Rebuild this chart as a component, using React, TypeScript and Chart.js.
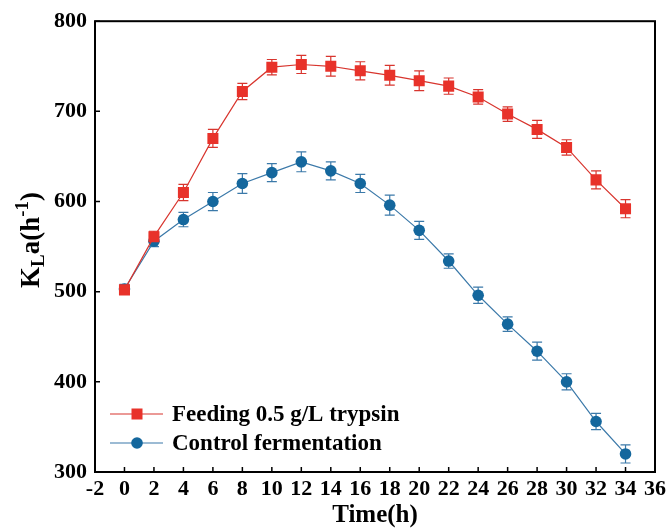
import React, { useEffect, useRef } from "react";
import { Chart, registerables } from "chart.js";

Chart.register(...registerables);

const times = [0, 2, 4, 6, 8, 10, 12, 14, 16, 18, 20, 22, 24, 26, 28, 30, 32, 34];
const feedingValues = [502, 561, 610, 670, 722, 749, 752, 750, 745, 740, 734, 728, 716, 697, 680, 660, 624, 592];
const feedingErrors = [5, 6, 9, 10, 9, 8.5, 10, 11, 10, 11, 11, 9, 8, 8, 10, 8.5, 10, 10];
const controlValues = [503, 556, 580, 600, 620, 632, 644, 634, 620, 596, 568, 534, 496, 464, 434, 400, 356, 320];
const controlErrors = [5, 6, 8, 10, 11, 10, 11, 10, 10, 11, 10, 8, 9, 8, 10, 9, 9, 10];
const seriesLabels = ["Feeding 0.5 g/L trypsin", "Control fermentation"];
const xTitle = "Time(h)";

const RED = "#e8322a";
const RED_LINE = "#d8352e";
const BLUE = "#14679d";
const BLUE_LINE = "#3b79a9";
const FONT = "'Liberation Serif', 'Times New Roman', serif";

const errors = [feedingErrors, controlErrors];

const framePlugin = {
  id: "frame",
  beforeDatasetsDraw(chart: any) {
    const ctx = chart.ctx;
    const xs = chart.scales.x;
    const ys = chart.scales.y;
    chart.data.datasets.forEach((ds: any, i: number) => {
      const err = errors[i];
      ctx.save();
      ctx.strokeStyle = ds.borderColor;
      ctx.lineWidth = 1.2;
      ds.data.forEach((p: any, j: number) => {
        const x = xs.getPixelForValue(p.x);
        const yt = ys.getPixelForValue(p.y + err[j]);
        const yb = ys.getPixelForValue(p.y - err[j]);
        ctx.beginPath();
        ctx.moveTo(x, yt);
        ctx.lineTo(x, yb);
        ctx.moveTo(x - 5, yt);
        ctx.lineTo(x + 5, yt);
        ctx.moveTo(x - 5, yb);
        ctx.lineTo(x + 5, yb);
        ctx.stroke();
      });
      ctx.restore();
    });
  },
  afterDraw(chart: any) {
    const ctx = chart.ctx;
    const a = chart.chartArea;
    const xs = chart.scales.x;
    const ys = chart.scales.y;
    ctx.save();
    ctx.strokeStyle = "#000";
    ctx.lineWidth = 2;
    ctx.strokeRect(a.left, a.top, a.right - a.left, a.bottom - a.top);
    ctx.lineWidth = 1.5;
    ctx.beginPath();
    xs.ticks.forEach((t: any) => {
      const x = xs.getPixelForValue(t.value);
      ctx.moveTo(x, a.bottom);
      ctx.lineTo(x, a.bottom - 5);
    });
    ys.ticks.forEach((t: any) => {
      const y = ys.getPixelForValue(t.value);
      ctx.moveTo(a.left, y);
      ctx.lineTo(a.left + 5, y);
    });
    ctx.stroke();

    // legend
    const rows = [
      { label: seriesLabels[0], color: RED, line: RED_LINE, style: "rect", y: 414 },
      { label: seriesLabels[1], color: BLUE, line: BLUE_LINE, style: "circle", y: 443 },
    ];
    rows.forEach((r) => {
      ctx.strokeStyle = r.line;
      ctx.lineWidth = 1.2;
      ctx.beginPath();
      ctx.moveTo(110, r.y);
      ctx.lineTo(163, r.y);
      ctx.stroke();
      ctx.fillStyle = r.color;
      if (r.style === "rect") {
        ctx.fillRect(137 - 5.5, r.y - 5.5, 11, 11);
      } else {
        ctx.beginPath();
        ctx.arc(137, r.y, 5.8, 0, Math.PI * 2);
        ctx.fill();
      }
      ctx.fillStyle = "#000";
      ctx.font = `bold 23px ${FONT}`;
      ctx.textBaseline = "middle";
      ctx.textAlign = "left";
      ctx.fillText(r.label, 172, r.y + 1);
    });

    // y title K_La(h^-1)
    ctx.translate(39, 240);
    ctx.rotate(-Math.PI / 2);
    ctx.textBaseline = "alphabetic";
    ctx.textAlign = "left";
    const big = `bold 27px ${FONT}`;
    const small = `bold 19px ${FONT}`;
    const parts = [
      { t: "K", f: big, dy: 0 },
      { t: "L", f: small, dy: 5 },
      { t: "a(h", f: big, dy: 0 },
      { t: "-1", f: small, dy: -11 },
      { t: ")", f: big, dy: 0 },
    ];
    let total = 0;
    parts.forEach((p) => {
      ctx.font = p.f;
      total += ctx.measureText(p.t).width;
    });
    let cx = -total / 2;
    parts.forEach((p) => {
      ctx.font = p.f;
      ctx.fillText(p.t, cx, p.dy);
      cx += ctx.measureText(p.t).width;
    });
    ctx.restore();
  },
};

export default function App() {
  const ref = useRef<HTMLCanvasElement | null>(null);
  useEffect(() => {
    document.body.style.margin = "0";
    const chart = new Chart(ref.current as HTMLCanvasElement, {
      type: "line",
      data: {
        datasets: [
          {
            label: seriesLabels[0],
            data: times.map((t, i) => ({ x: t, y: feedingValues[i] })),
            borderColor: RED_LINE,
            backgroundColor: RED,
            borderWidth: 1.2,
            pointStyle: "rect",
            pointRadius: 7.8,
            pointBorderWidth: 0,
            pointBackgroundColor: RED,
          },
          {
            label: seriesLabels[1],
            data: times.map((t, i) => ({ x: t, y: controlValues[i] })),
            borderColor: BLUE_LINE,
            backgroundColor: BLUE,
            borderWidth: 1.2,
            pointStyle: "circle",
            pointRadius: 5.8,
            pointBorderWidth: 0,
            pointBackgroundColor: BLUE,
          },
        ],
      },
      options: {
        animation: false,
        responsive: true,
        maintainAspectRatio: false,
        layout: { padding: { left: 0, top: 20, right: 14, bottom: 0 } },
        plugins: { legend: { display: false }, tooltip: { enabled: false } },
        scales: {
          x: {
            type: "linear",
            min: -2,
            max: 36,
            grid: { display: false, drawTicks: false },
            border: { display: false },
            ticks: {
              stepSize: 2,
              padding: 4,
              color: "#000",
              maxRotation: 0,
              autoSkip: false,
              font: { family: FONT, size: 22, weight: "bold" },
            },
            title: {
              display: true,
              text: xTitle,
              color: "#000",
              padding: { top: 0, bottom: 0 },
              font: { family: FONT, size: 25, weight: "bold" },
            },
            afterFit: (s: any) => {
              s.height = 59;
            },
          },
          y: {
            type: "linear",
            min: 300,
            max: 800,
            grid: { display: false, drawTicks: false },
            border: { display: false },
            ticks: {
              stepSize: 100,
              padding: 8,
              color: "#000",
              font: { family: FONT, size: 22, weight: "bold" },
            },
            afterFit: (s: any) => {
              s.width = 95;
            },
          },
        },
      },
      plugins: [framePlugin],
    });
    return () => chart.destroy();
  }, []);
  return (
    <div style={{ position: "fixed", left: 0, top: 0, width: 670, height: 531, background: "#fff" }}>
      <canvas ref={ref} />
    </div>
  );
}
